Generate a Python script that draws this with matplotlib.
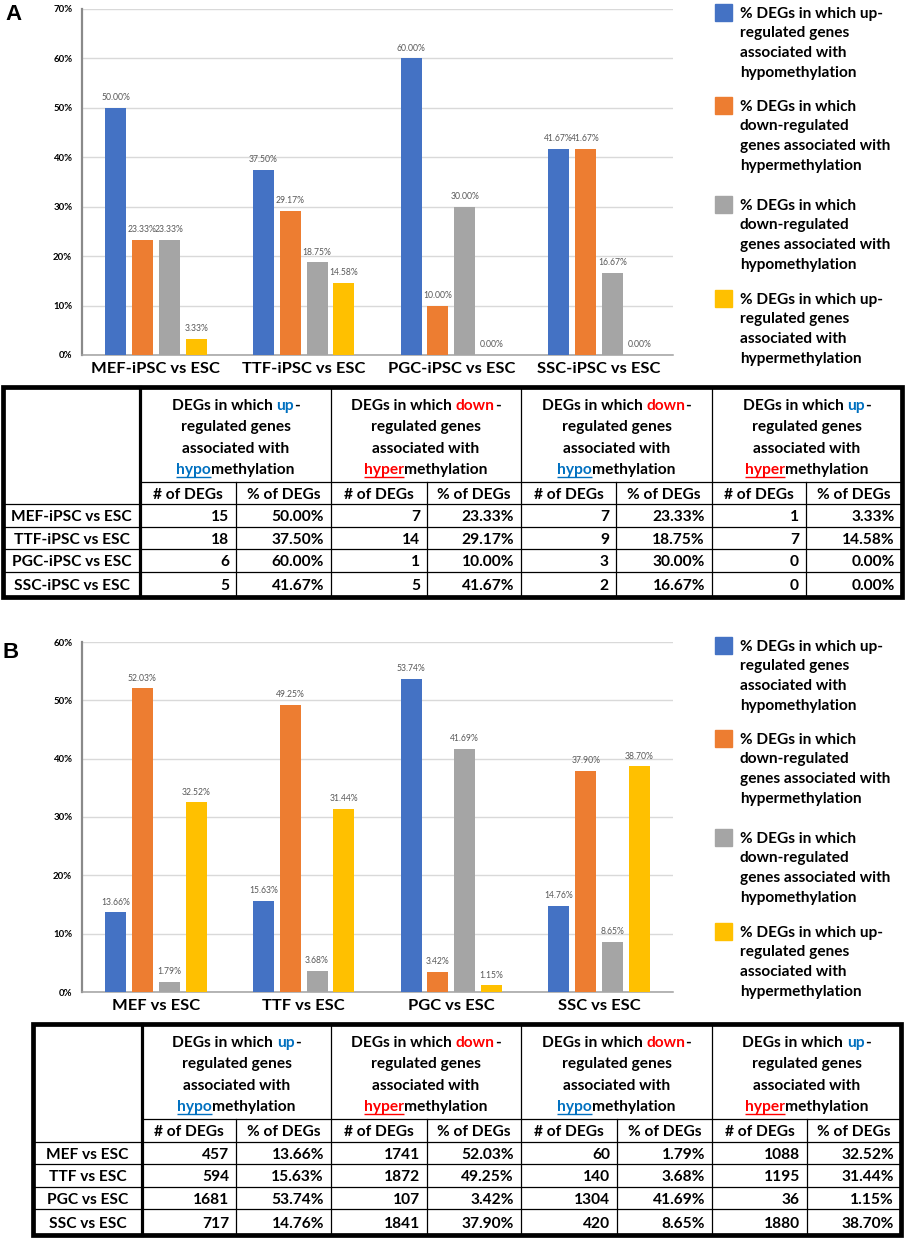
import numpy as np
import matplotlib
matplotlib.use("Agg")
import matplotlib.pyplot as plt
from matplotlib.patches import Rectangle
from matplotlib.ticker import FuncFormatter
from matplotlib.font_manager import FontProperties

# ---------------- data ----------------
a_categories = ["MEF-iPSC vs ESC", "TTF-iPSC vs ESC", "PGC-iPSC vs ESC", "SSC-iPSC vs ESC"]
a_up_hypo_n = [15, 18, 6, 5]
a_up_hypo_pct = [50.00, 37.50, 60.00, 41.67]
a_down_hyper_n = [7, 14, 1, 5]
a_down_hyper_pct = [23.33, 29.17, 10.00, 41.67]
a_down_hypo_n = [7, 9, 3, 2]
a_down_hypo_pct = [23.33, 18.75, 30.00, 16.67]
a_up_hyper_n = [1, 7, 0, 0]
a_up_hyper_pct = [3.33, 14.58, 0.00, 0.00]

b_categories = ["MEF vs ESC", "TTF vs ESC", "PGC vs ESC", "SSC vs ESC"]
b_up_hypo_n = [457, 594, 1681, 717]
b_up_hypo_pct = [13.66, 15.63, 53.74, 14.76]
b_down_hyper_n = [1741, 1872, 107, 1841]
b_down_hyper_pct = [52.03, 49.25, 3.42, 37.90]
b_down_hypo_n = [60, 140, 1304, 420]
b_down_hypo_pct = [1.79, 3.68, 41.69, 8.65]
b_up_hyper_n = [1088, 1195, 36, 1880]
b_up_hyper_pct = [32.52, 31.44, 1.15, 38.70]

legend_labels = [
    ["% DEGs in which up-", "regulated genes", "associated with", "hypomethylation"],
    ["% DEGs in which", "down-regulated", "genes associated with", "hypermethylation"],
    ["% DEGs in which", "down-regulated", "genes associated with", "hypomethylation"],
    ["% DEGs in which up-", "regulated genes", "associated with", "hypermethylation"],
]
series_colors = ["#4472C4", "#ED7D31", "#A5A5A5", "#FFC000"]
KW_BLUE = "#0070C0"
KW_RED = "#FF0000"
header_segments = [
    [[("DEGs in which ", "black", False), ("up", KW_BLUE, False), ("-", "black", False)],
     [("regulated genes", "black", False)], [("associated with", "black", False)],
     [("hypo", KW_BLUE, True), ("methylation", "black", False)]],
    [[("DEGs in which ", "black", False), ("down", KW_RED, False), ("-", "black", False)],
     [("regulated genes", "black", False)], [("associated with", "black", False)],
     [("hyper", KW_RED, True), ("methylation", "black", False)]],
    [[("DEGs in which ", "black", False), ("down", KW_RED, False), ("-", "black", False)],
     [("regulated genes", "black", False)], [("associated with", "black", False)],
     [("hypo", KW_BLUE, True), ("methylation", "black", False)]],
    [[("DEGs in which ", "black", False), ("up", KW_BLUE, False), ("-", "black", False)],
     [("regulated genes", "black", False)], [("associated with", "black", False)],
     [("hyper", KW_RED, True), ("methylation", "black", False)]],
]
sub_headers = ["# of DEGs", "% of DEGs"]

# ---------------- figure ----------------
W, H = 906, 1239
FONT = "Lato"
fig = plt.figure(figsize=(W / 100, H / 100), dpi=100)
renderer = fig.canvas.get_renderer()

overlay = fig.add_axes([0, 0, 1, 1], zorder=5)
overlay.set_xlim(0, W)
overlay.set_ylim(H, 0)
overlay.axis("off")
overlay.patch.set_alpha(0)


def text_width(s, size, weight="bold", family=FONT):
    t = overlay.text(0, 0, s, fontsize=size, fontweight=weight, family=family)
    w = t.get_window_extent(renderer=renderer).width
    t.remove()
    return w


def sentinel_advance(s, size):
    if not s:
        return 0.0
    return text_width("|" + s + "|", size) - text_width("||", size)


def glyph_origins(s, size):
    """Pen x-position (pixels) of every character of s, as the Agg renderer lays it out."""
    est = sentinel_advance(s[:-1], size)
    try:
        from matplotlib.backends.backend_agg import get_hinting_flag
        fp = FontProperties(family=FONT, weight="bold", size=size)
        font = renderer._prepare_font(fp)
        xys = np.asarray(font.set_text(s, 0.0, flags=get_hinting_flag()),
                         dtype=float).reshape(-1, 2)[:, 0]
        if len(xys) != len(s):
            raise ValueError
        best = None
        for scale in (1 / 64.0, 1.0):
            xs = xys * scale
            if xs[0] > 0.5:  # positions recorded after the advance
                xs = np.concatenate([[0.0], xs[:-1]])
            err = abs(xs[-1] - est)
            if best is None or err < best[0]:
                best = (err, xs)
        if best[0] > 0.2 * est + 4:
            raise ValueError
        return best[1]
    except Exception:
        return np.array([sentinel_advance(s[:i], size) for i in range(len(s))])


def fit(s, target, weight="bold"):
    return 10.0 * target / text_width(s, 10.0, weight)


FS_TABLE = fit("MEF-iPSC vs ESC", 121)
FS_XLAB = fit("MEF-iPSC vs ESC", 128)
FS_LEG = fit("% DEGs in which up-", 143)
FS_BARLAB = fit("38.70%", 29, "normal")
FS_YTICK = fit("70%", 19)


def cap_center_baseline(cy, size):
    return cy + 0.36 * size * 100 / 72


def draw_segments(cx, cy, segs, size):
    full = "".join(s[0] for s in segs)
    x0 = cx - text_width(full, size) / 2
    base = cap_center_baseline(cy, size)
    xs = glyph_origins(full, size)
    kw = dict(fontsize=size, fontweight="bold", family=FONT, ha="left", va="baseline")
    idx = 0
    for txt, col, ul in segs:
        start = xs[idx]
        overlay.text(x0 + start, base, txt, color=col, **kw)
        if ul:
            end = xs[idx + len(txt)] if idx + len(txt) < len(full) else start + text_width(txt, size)
            overlay.plot([x0 + start, x0 + end], [base + 2.5, base + 2.5],
                         color=col, lw=1.0, solid_capstyle="butt")
        idx += len(txt)


def draw_chart(rect, ymax, categories, pcts):
    l, t, r, b = rect
    ax = fig.add_axes([l / W, 1 - b / H, (r - l) / W, (b - t) / H])
    x = np.arange(len(categories))
    step, width = 0.182, 0.142
    for i, (vals, col) in enumerate(zip(pcts, series_colors)):
        bars = ax.bar(x + (i - 1.5) * step, vals, width=width, color=col, zorder=3)
        ax.bar_label(bars, labels=[f"{v:.2f}%" for v in vals], padding=4,
                     fontsize=FS_BARLAB, color="#595959", family=FONT)
    ax.set_xlim(-0.5, len(categories) - 0.5)
    ax.set_ylim(0, ymax)
    ax.set_yticks(np.arange(0, ymax + 0.1, 10))
    ax.yaxis.set_major_formatter(FuncFormatter(lambda v, _: f"{v:.0f}%"))
    ax.set_xticks(x)
    ax.set_xticklabels(categories, fontsize=FS_XLAB, fontweight="bold", family=FONT)
    for lab in ax.get_yticklabels():
        lab.set_fontsize(FS_YTICK)
        lab.set_fontweight("bold")
        lab.set_family(FONT)
    ax.tick_params(axis="both", length=0)
    ax.tick_params(axis="y", pad=7)
    ax.tick_params(axis="x", pad=5)
    ax.grid(axis="y", color="#D9D9D9", lw=1.0, zorder=0)
    for s in ["top", "right"]:
        ax.spines[s].set_visible(False)
    ax.spines["left"].set_color("#8A8A8A")
    ax.spines["left"].set_linewidth(1.6)
    ax.spines["bottom"].set_color("#A0A0A0")
    ax.spines["bottom"].set_linewidth(1.1)
    ax.set_axisbelow(True)
    return ax


def draw_legend(first_centers):
    for k, lines in enumerate(legend_labels):
        c0 = first_centers[k]
        overlay.add_patch(Rectangle((715, c0 - 8.5), 17, 17, color=series_colors[k]))
        for j, ln in enumerate(lines):
            overlay.text(740, cap_center_baseline(c0 + j * 19.8, FS_LEG), ln,
                         fontsize=FS_LEG, fontweight="bold", family=FONT,
                         ha="left", va="baseline", color="black")


def draw_table(cols, rows, row_labels, ns_list, pct_list):
    left, right = cols[0], cols[-1]
    top, bottom = rows[0], rows[-1]
    thin, thick, outer = 0.9, 2.3, 3.4
    kw = dict(color="black", solid_capstyle="projecting")
    overlay.plot([cols[1], right], [rows[1], rows[1]], lw=thin, **kw)
    for y in rows[2:-1]:
        overlay.plot([left, right], [y, y], lw=thin, **kw)
    for xi in (3, 5, 7):
        overlay.plot([cols[xi], cols[xi]], [top, bottom], lw=thin, **kw)
    for xi in (2, 4, 6, 8):
        overlay.plot([cols[xi], cols[xi]], [rows[1], bottom], lw=thin, **kw)
    overlay.plot([cols[1], cols[1]], [top, bottom], lw=thick, **kw)
    overlay.add_patch(Rectangle((left, top), right - left, bottom - top, fill=False,
                                lw=outer, edgecolor="black", joinstyle="miter"))
    offsets = [17, 38.5, 60, 81.5]
    for k in range(4):
        cx = (cols[1 + 2 * k] + cols[3 + 2 * k]) / 2
        for j, segs in enumerate(header_segments[k]):
            draw_segments(cx, top + offsets[j], segs, FS_TABLE)
    cy = (rows[1] + rows[2]) / 2
    for c in range(8):
        cx = (cols[1 + c] + cols[2 + c]) / 2
        overlay.text(cx, cap_center_baseline(cy, FS_TABLE), sub_headers[c % 2],
                     fontsize=FS_TABLE, fontweight="bold", family=FONT,
                     ha="center", va="baseline")
    for r, lab in enumerate(row_labels):
        cy = (rows[2 + r] + rows[3 + r]) / 2
        base = cap_center_baseline(cy, FS_TABLE)
        overlay.text((cols[0] + cols[1]) / 2, base, lab, fontsize=FS_TABLE,
                     fontweight="bold", family=FONT, ha="center", va="baseline")
        for k in range(4):
            n = ns_list[k][r]
            p = pct_list[k][r]
            overlay.text(cols[2 + 2 * k] - 7, base, f"{n}", fontsize=FS_TABLE,
                         fontweight="bold", family=FONT, ha="right", va="baseline")
            overlay.text(cols[3 + 2 * k] - 7, base, f"{p:.2f}%", fontsize=FS_TABLE,
                         fontweight="bold", family=FONT, ha="right", va="baseline")


# ---------------- panel A ----------------
draw_chart((82, 9, 673, 355), 70, a_categories,
           [a_up_hypo_pct, a_down_hyper_pct, a_down_hypo_pct, a_up_hyper_pct])
draw_legend([12, 105, 204, 298])
draw_table([3, 140, 236, 331, 427, 521, 616, 712, 806, 902],
           [387, 482, 504, 527, 549, 572, 597], a_categories,
           [a_up_hypo_n, a_down_hyper_n, a_down_hypo_n, a_up_hyper_n],
           [a_up_hypo_pct, a_down_hyper_pct, a_down_hypo_pct, a_up_hyper_pct])

# ---------------- panel B ----------------
draw_chart((82, 642, 673, 992), 60, b_categories,
           [b_up_hypo_pct, b_down_hyper_pct, b_down_hypo_pct, b_up_hyper_pct])
draw_legend([645, 738, 837, 931])
draw_table([33, 142, 236, 331, 427, 521, 617, 712, 807, 901],
           [1024, 1119, 1142, 1164, 1187, 1209, 1235], b_categories,
           [b_up_hypo_n, b_down_hyper_n, b_down_hypo_n, b_up_hyper_n],
           [b_up_hypo_pct, b_down_hyper_pct, b_down_hypo_pct, b_up_hyper_pct])

# panel letters
overlay.text(13, 15, "A", fontsize=16, fontweight="bold", family="Liberation Sans",
             ha="center", va="center")
overlay.text(11, 652, "B", fontsize=16, fontweight="bold", family="Liberation Sans",
             ha="center", va="center")

fig.savefig("out.png", dpi=100, facecolor="white")
